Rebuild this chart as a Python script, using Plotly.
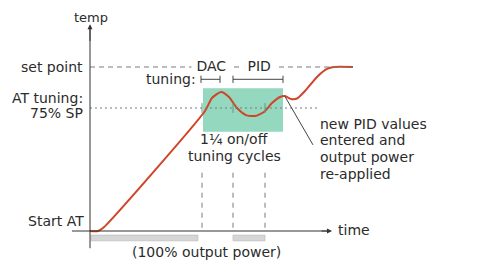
import plotly.graph_objects as go

# ---- data (time in arbitrary units, temp in % of set point) ----
time = [0.0, 0.8, 1.3, 11.5, 12.2, 13.1, 13.9, 14.7, 15.6, 16.5, 17.4, 18.2, 19.0, 19.5, 20.1, 20.7, 21.5, 22.8, 23.7, 24.4, 26.3]
temp = [0.0, 0.0, 1.8, 73.2, 81.1, 84.8, 81.7, 75.0, 70.7, 70.1, 72.6, 78.0, 81.7, 82.3, 80.5, 80.8, 85.4, 94.5, 98.8, 100.0, 100.0]

set_point = 100
at_tuning = 75
tuning_box = [11.3, 19.3]          # time span of tuning window
tuning_box_temp = [60.5, 87.0]
cycle_marks = [11.2, 14.3, 17.5]
dac_span = [11.1, 13.0]
pid_span = [14.3, 19.3]
power_on = [[0.1, 10.8], [14.3, 17.5]]
sp_line_end = 26.3
at_line_end = 22.8

y_labels = ["set point", "AT tuning:", "75% SP", "Start AT"]
note_lines = ["new PID values", "entered and", "output power", "re-applied"]
cycle_lines = ["1¼ on/off", "tuning cycles"]

FONT = "DejaVu Sans"
TXT = "#2b2b2b"
GRID = "#7a7a7a"
FS = 14

fig = go.Figure()

shapes = []
shapes.append(dict(type="rect", x0=tuning_box[0], x1=tuning_box[1], y0=tuning_box_temp[0], y1=tuning_box_temp[1],
                   fillcolor="#93d8bf", line=dict(width=0), layer="below"))
shapes.append(dict(type="line", x0=0, x1=sp_line_end, y0=set_point, y1=set_point,
                   line=dict(color=GRID, width=1, dash="5px,4px")))
shapes.append(dict(type="line", x0=0, x1=at_line_end, y0=at_tuning, y1=at_tuning,
                   line=dict(color=GRID, width=1, dash="2px,3px")))
for c in cycle_marks:
    shapes.append(dict(type="line", x0=c, x1=c, y0=2, y1=38, line=dict(color=GRID, width=1, dash="5px,5px")))
    shapes.append(dict(type="line", x0=c, x1=c, y0=72, y1=78, line=dict(color="#5f9c84", width=1)))
for a, b in power_on:
    shapes.append(dict(type="rect", x0=a, x1=b, y0=-2.5, y1=-6, fillcolor="#d6d6d6",
                       line=dict(color="#b5b5b5", width=0.6)))
for a, b in [dac_span, pid_span]:
    yb = 92.5
    shapes.append(dict(type="line", x0=a, x1=b, y0=yb, y1=yb, line=dict(color="#444", width=1)))
    for e in (a, b):
        shapes.append(dict(type="line", x0=e, x1=e, y0=yb - 2.2, y1=yb + 2.2, line=dict(color="#444", width=1)))
shapes.append(dict(type="line", x0=19.5, x1=22.3, y0=82, y1=52.5, line=dict(color="#444", width=1)))
shapes.append(dict(type="line", x0=-1.8, x1=24.0, y0=0, y1=0, line=dict(color="#333", width=1)))
shapes.append(dict(type="line", x0=0, x1=0, y0=-10.5, y1=124, line=dict(color="#333", width=1)))

fig.add_trace(go.Scatter(x=time, y=temp, mode="lines",
                         line=dict(color="#cf4526", width=2, shape="spline", smoothing=0.6),
                         hoverinfo="skip", showlegend=False))

ann = []
def txt(x, y, t, xanchor="center", size=FS, align="center", bg=None):
    d = dict(x=x, y=y, text=t, showarrow=False, xanchor=xanchor, yanchor="middle", align=align,
             font=dict(family=FONT, size=size, color=TXT))
    if bg:
        d["bgcolor"] = bg
        d["borderpad"] = 0
    ann.append(d)

ann.append(dict(x=24.2, y=0, ax=23.0, ay=0, xref="x", yref="y", axref="x", ayref="y", text="", showarrow=True,
                arrowhead=2, arrowsize=1, arrowwidth=1, arrowcolor="#333"))
ann.append(dict(x=0, y=126, ax=0, ay=115, xref="x", yref="y", axref="x", ayref="y", text="", showarrow=True,
                arrowhead=2, arrowsize=1, arrowwidth=1, arrowcolor="#333"))

LH = 10.2  # line height in temp units (~16.7px)
txt(0.1, 130.3, "temp", size=13)
txt(24.6, 0.6, "time", xanchor="left")
txt(-0.5, set_point, y_labels[0], xanchor="right")
txt(-0.5, 81.0, y_labels[1], xanchor="right")
txt(-0.5, 72.0, y_labels[2], xanchor="right")
txt(-0.4, 6.0, y_labels[3], xanchor="right")
txt(10.8, 92.5, "tuning:", xanchor="right")
txt(12.1, 100.5, " DAC ", bg="white")
txt(16.9, 100.5, " PID ", bg="white")
for i, line in enumerate(cycle_lines):
    txt(14.4, 56.0 - i * LH, line)
txt(11.6, -12.5, "(100% output power)")
for i, line in enumerate(note_lines):
    txt(22.8, 65.5 - i * LH, line, xanchor="left", align="left")

# the page body adds an 8px offset; ranges are chosen so marks land where the reference has them
fig.update_layout(
    width=478, height=260, margin=dict(l=0, r=0, t=0, b=0),
    paper_bgcolor="white", plot_bgcolor="white",
    xaxis=dict(range=[-8.2, 39.6], visible=False, fixedrange=True),
    yaxis=dict(range=[-22.56, 135.98], visible=False, fixedrange=True),
    shapes=shapes, annotations=ann, showlegend=False,
)
fig.write_html("out.html")
